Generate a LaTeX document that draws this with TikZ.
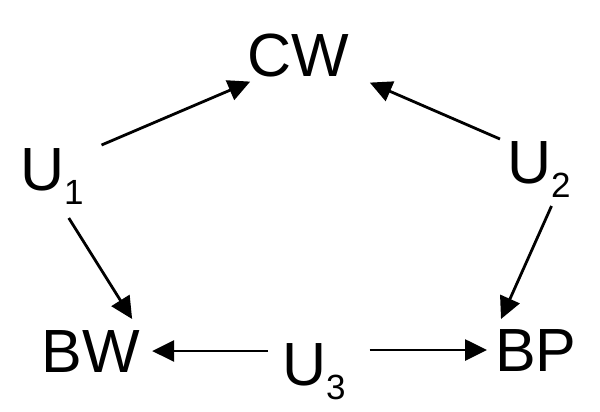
\documentclass[tikz,border=0pt]{standalone}
\usepackage{fontspec}
\setmainfont{Liberation Sans}
\usetikzlibrary{calc}
\usetikzlibrary{arrows.meta}
\newcommand{\usub}[1]{\raisebox{-14pt}{\fontsize{35}{40}\selectfont #1}}

\begin{document}
\begin{tikzpicture}[x=1pt,y=-1pt,>={Triangle[length=22pt,width=21pt]},
		var/.style={inner sep=0pt,outer sep=0pt,font=\fontsize{61}{70}\selectfont}]
		\useasboundingbox (0,0) rectangle (600,412);
		\node[var,anchor=base]      (cw) at (298,77)  {CW};
		\node[var,anchor=base west] (u1) at (20,190)  {U\usub{1}};
		\node[var,anchor=base west] (u2) at (507,183) {U\usub{2}};
		\node[var,anchor=base]      (bw) at (91,372)  {BW};
		\node[var,anchor=base west] (u3) at (282,385) {U\usub{3}};
		\node[var,anchor=base west] (bp) at (495,371) {BP};
		
		\path[->,line width=2.8pt]
		($(u1.north east)+(18,-3)$) edge ($(cw.south west)+(3,4)$)
		($(u2.north west)+(-7,-2)$) edge ($(cw.south east)+(21,5)$)
		($(u1.south)+(17,14)$) edge ($(bw.north east)+(-8,-11)$)
		($(u2.south east)+(-19,9)$) edge ($(bp.north west)+(6,-10)$)
		(u3.west |- bw.east) edge[shorten <=14pt,shorten >=12pt] (bw.east)
		(u3.east |- bp.west) edge[shorten <=24pt,shorten >=8pt] (bp.west);
\end{tikzpicture}
\end{document}
